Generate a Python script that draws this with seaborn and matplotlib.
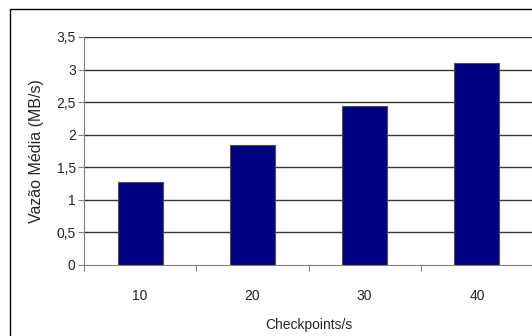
import matplotlib
matplotlib.use('Agg')
import matplotlib.pyplot as plt
import seaborn as sns
import pandas as pd
from matplotlib.patches import Rectangle
from matplotlib.ticker import FuncFormatter

# dados
checkpoints = ['10', '20', '30', '40']
vazao_media = [1.27, 1.84, 2.44, 3.10]

df = pd.DataFrame({'checkpoints': checkpoints, 'vazao': vazao_media})

sns.set_style('white')
plt.rcParams['font.family'] = ['Liberation Sans', 'DejaVu Sans']

fig = plt.figure(figsize=(5.32, 3.36), dpi=100)
ax = fig.add_axes([84 / 532, 1 - 265 / 336, 449 / 532, 228 / 336])

# grade horizontal
for v in [0.5, 1, 1.5, 2, 2.5, 3, 3.5]:
    ax.axhline(v, color='#353535', linewidth=1.0, zorder=0)

sns.barplot(data=df, x='checkpoints', y='vazao', color='#000080', width=0.4,
            edgecolor='#505050', linewidth=0.8, saturation=1, ax=ax, zorder=2)

ax.set_xlim(-0.5, 3.5)
ax.set_ylim(0, 3.5)
ax.set_yticks([0, 0.5, 1, 1.5, 2, 2.5, 3, 3.5])
ax.yaxis.set_major_formatter(FuncFormatter(lambda v, p: f'{v:g}'.replace('.', ',')))

ax.set_xticks([-0.5, 0.5, 1.5, 2.5, 3.5], minor=True)
ax.tick_params(axis='x', which='major', length=0, pad=17, labelsize=10)
ax.tick_params(axis='x', which='minor', length=4, width=0.8, color='#808080', direction='out', bottom=True)
ax.tick_params(axis='y', length=4, width=0.8, color='#808080', direction='out', left=True, labelsize=10, pad=2)

for s in ['top', 'right']:
    ax.spines[s].set_visible(False)
for s in ['left', 'bottom']:
    ax.spines[s].set_color('#808080')
    ax.spines[s].set_linewidth(0.8)

ax.set_xlabel('Checkpoints/s', fontsize=10, labelpad=11)
ax.set_ylabel('Vazão Média (MB/s)', fontsize=11.5, labelpad=9)

# moldura externa do gráfico
fig.patches.append(Rectangle((10 / 532, -0.1), 1.2, 1 - 9 / 336 + 0.1,
                             transform=fig.transFigure, fill=False,
                             edgecolor='black', linewidth=1.0))

fig.savefig('out.png', dpi=100)
